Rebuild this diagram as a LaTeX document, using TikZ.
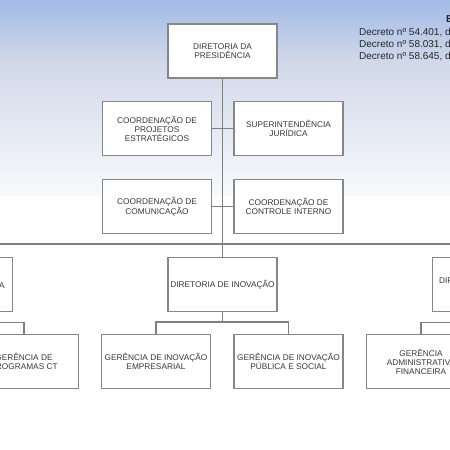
\documentclass[tikz,border=0pt]{standalone}
\usepackage{fontspec}
\setmainfont{Liberation Sans}
\definecolor{bgtop}{RGB}{162,187,230}
\definecolor{bgmid}{RGB}{208,216,233}
\definecolor{bglow}{RGB}{248,249,252}
\definecolor{boxgray}{RGB}{135,135,135}
\definecolor{linegray}{RGB}{128,128,128}
\definecolor{textgray}{RGB}{55,55,55}
\tikzset{
  orgbox/.style={draw=boxgray, line width=1.2pt, fill=white, minimum width=109pt, minimum height=54pt,
    inner sep=0pt, align=center, font=\fontsize{8.3}{9}\selectfont, text=textgray},
  conn/.style={draw=linegray, line width=1.2pt},
  decreto/.style={anchor=base west, inner sep=0pt, font=\fontsize{10}{12}\selectfont, text=black!85}
}
\begin{document}
\begin{tikzpicture}[x=1pt,y=-1pt]
\useasboundingbox (0,0) rectangle (450,450);
\clip (0,0) rectangle (450,450);
\fill[white] (0,0) rectangle (450,450);
\shade[top color=bgtop, bottom color=bgmid] (0,0) rectangle (450,60);
\shade[top color=bgmid, bottom color=bglow] (0,60) rectangle (450,195);

% header text
\node[decreto, font=\bfseries\fontsize{10}{12}\selectfont] (titulo) at (446,22) {ESTRUTURA ORGANIZACIONAL};
\node[decreto] (d1) at (359,35) {Decreto nº 54.401, de 2009};
\node[decreto] (d2) at (359,47) {Decreto nº 58.031, de 2012};
\node[decreto] (d3) at (359,59) {Decreto nº 58.645, de 2012};

\coordinate (hl) at (-200,244);
\coordinate (hr) at (650,244);

\node[orgbox] (pres) at (222.5,51) {DIRETORIA DA\\PRESIDÊNCIA};
\node[orgbox] (proj) at (157,128.5) {COORDENAÇÃO DE\\PROJETOS\\ESTRATÉGICOS};
\node[orgbox] (jur) at (288.5,128.5) {SUPERINTENDÊNCIA\\JURÍDICA};
\node[orgbox] (com) at (157,206.5) {COORDENAÇÃO DE\\COMUNICAÇÃO};
\node[orgbox] (ctrl) at (288.5,206.5) {COORDENAÇÃO DE\\CONTROLE INTERNO};

\node[orgbox] (ldir) at (-42,284.5) {DIRETORIA CIENTÍFICA};
\node[orgbox] (inov) at (222.5,284.5) {DIRETORIA DE INOVAÇÃO};
\node[orgbox] (rdir) at (487,284.5) {DIRETORIA DE GESTÃO\\ADMINISTRATIVA};

\node[orgbox] (gpct) at (24,361.5) {GERÊNCIA DE\\PROGRAMAS CT};
\node[orgbox] (gemp) at (156,361.5) {GERÊNCIA DE INOVAÇÃO\\EMPRESARIAL};
\node[orgbox] (gpub) at (288.5,361.5) {GERÊNCIA DE INOVAÇÃO\\PÚBLICA E SOCIAL};
\node[orgbox] (gadm) at (421,361.5) {GERÊNCIA\\ADMINISTRATIVA\\FINANCEIRA};

\draw[conn] (pres.south) -- (inov.north);
\draw[conn] (proj.east) -- (jur.west);
\draw[conn] (com.east) -- (ctrl.west);
\draw[conn] (hl) -- (hr);
\draw[conn] (ldir.north) -- (ldir.north |- hl);
\draw[conn] (rdir.north) -- (rdir.north |- hr);
\draw[conn] (inov.south) -- ++(0,10) coordinate (ib);
\draw[conn] (gemp.north) -- ++(0,-12) -| (gpub.north);
\draw[conn] (ldir.south) -- ++(0,10) -| (gpct.north);
\draw[conn] (rdir.south) -- ++(0,10) -| (gadm.north);
\end{tikzpicture}
\end{document}
